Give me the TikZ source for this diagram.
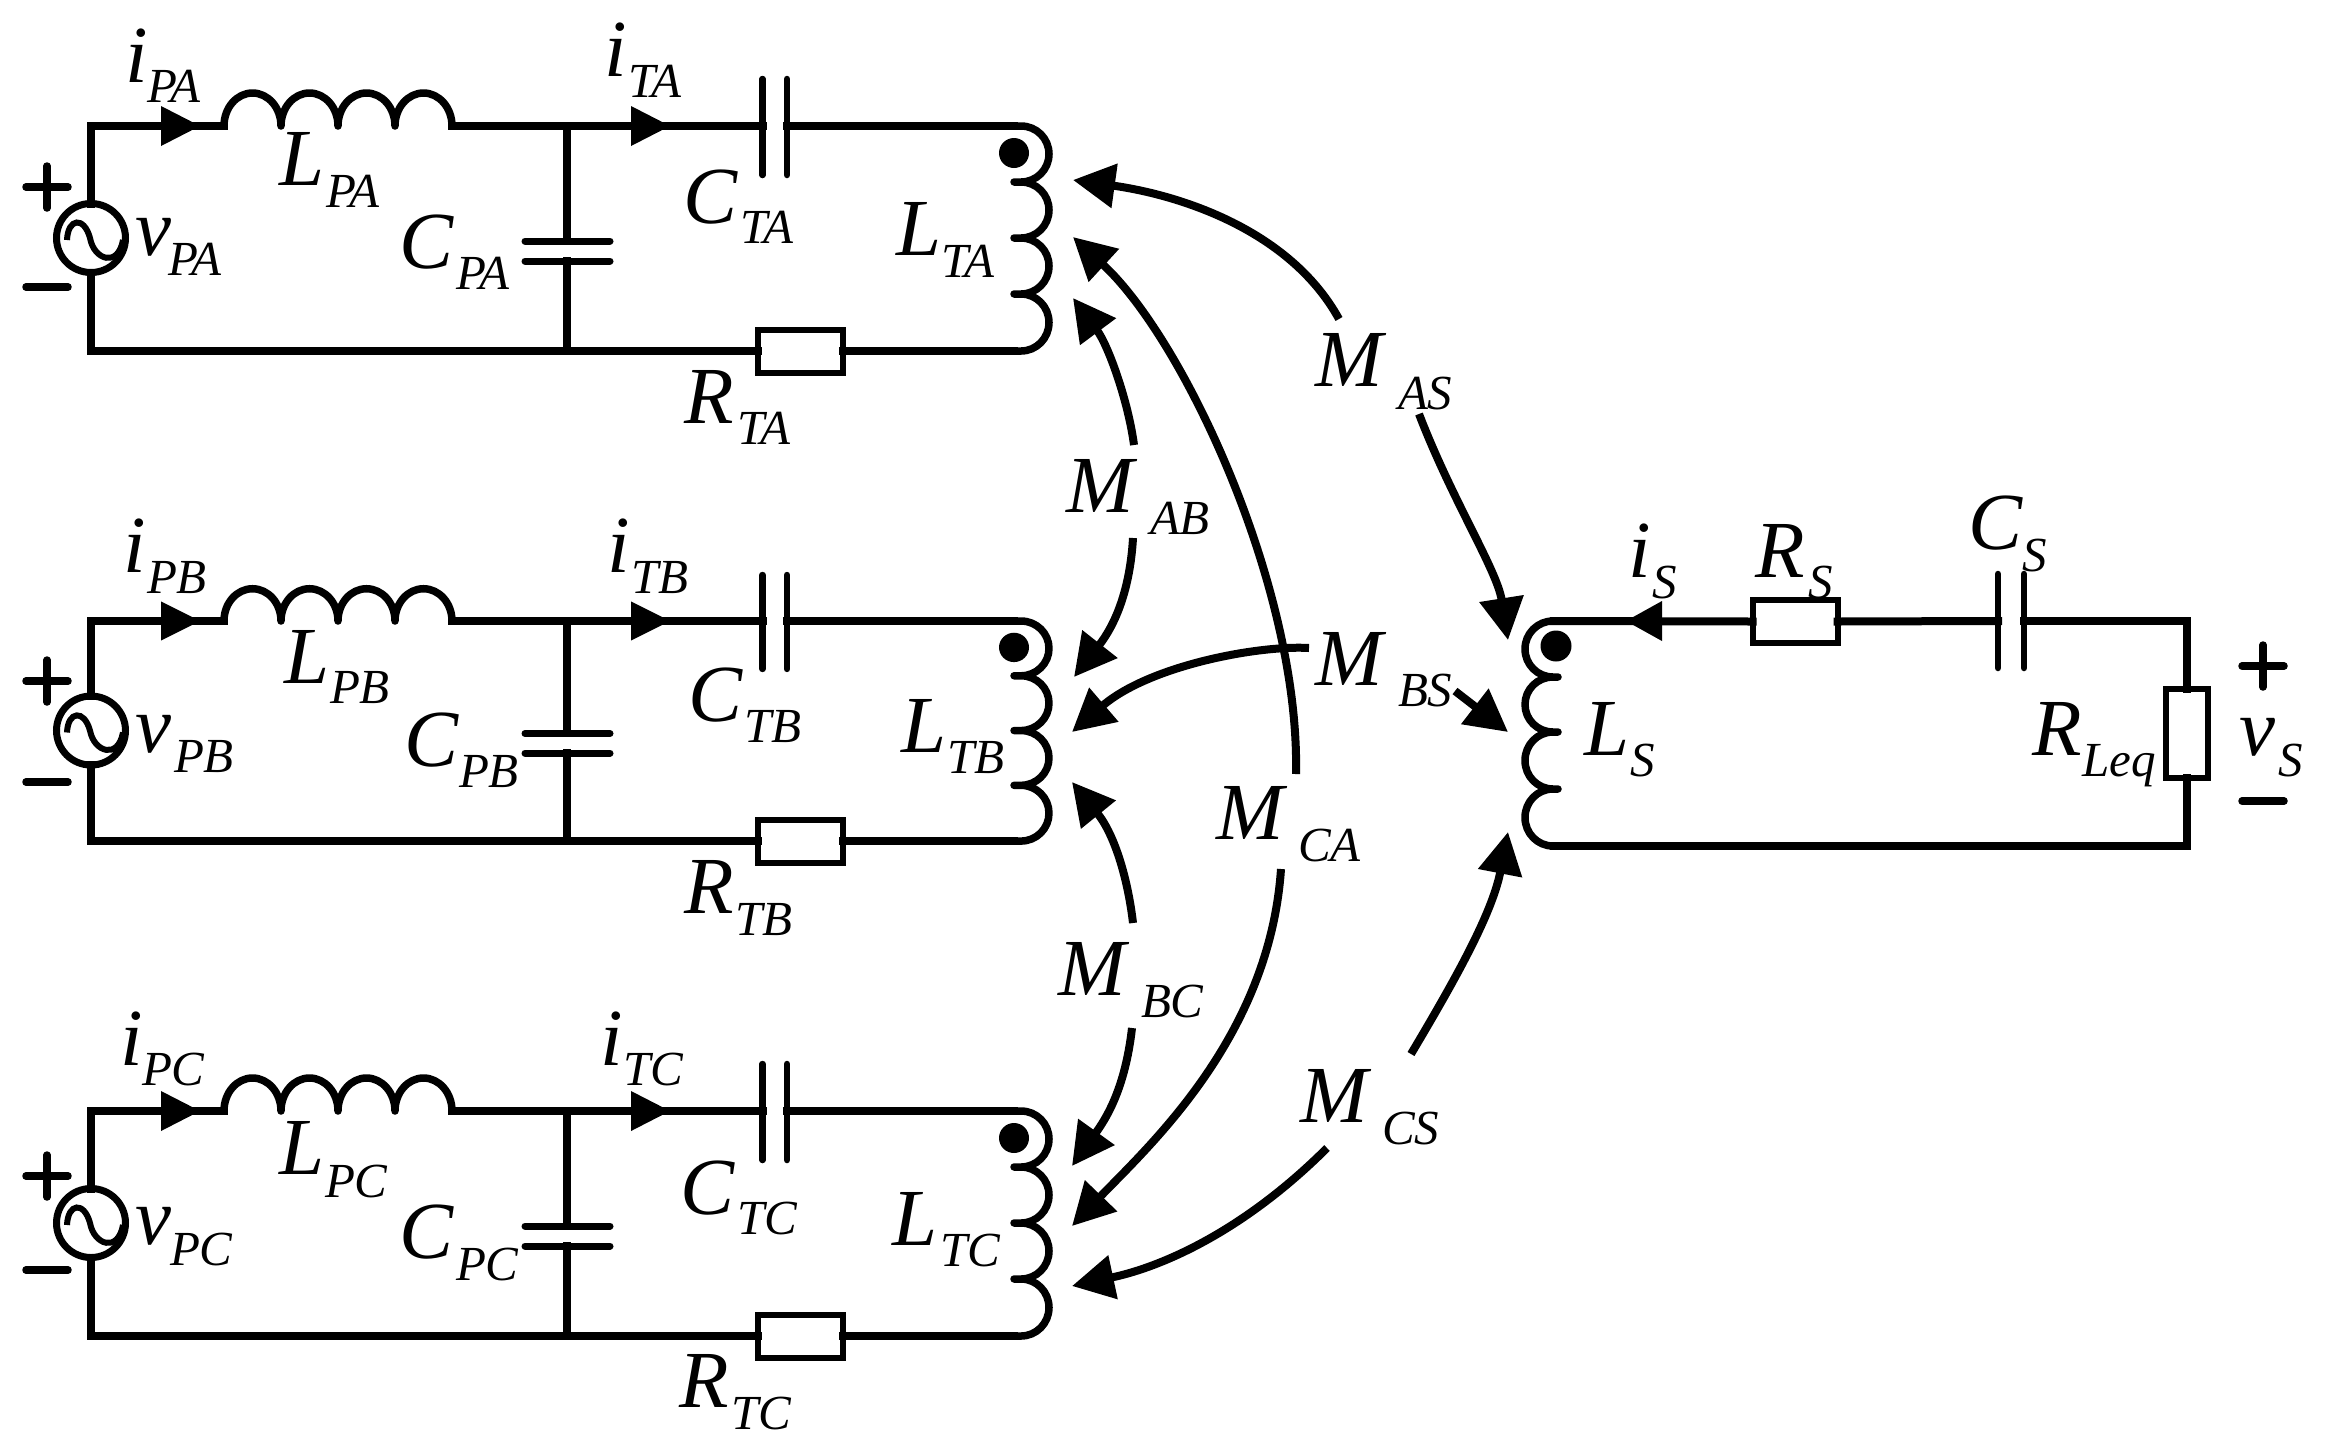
\documentclass[tikz,border=0pt]{standalone}
\usepackage{fontspec}
\setmainfont{Liberation Serif}
\usetikzlibrary{arrows.meta}
\newcommand{\mainsz}{\fontsize{81}{84}\selectfont\itshape}
\newcommand{\subsz}{\fontsize{49}{52}\selectfont\itshape}
% name, base position, main, dx to subscript, drop, subscript
\newcommand{\sym}[6]{\node[lab] (#1) at (#2) {\mainsz\makebox[#4pt][l]{#3}\raisebox{-#5pt}{\subsz #6}};}
% name, start, control 1, control 2, tip
\newcommand{\marc}[5]{\coordinate (#1s) at (#2);\coordinate (#1t) at (#5);
  \draw[mut] (#1s) .. controls (#3) and (#4) .. (#1t);}
\newcommand{\flowtip}[2]{\fill (#1,#2-20) -- (#1+39,#2) -- (#1,#2+20) -- cycle;}
\newcommand{\plusminus}[3]{%
  \draw[sign] (#1-21,#2) -- (#1+21,#2);
  \draw[sign] (#1,#2-21) -- (#1,#2+21);
  \draw[sign] (#1-21,#3) -- (#1+21,#3);}
% name, top y, height of the loop / 225
\newcommand{\phase}[3]{%
\begin{scope}[shift={(0,#2)},yscale=#3]
  \coordinate (#1tl) at (91,0);  \coordinate (#1bl) at (91,225);
  \coordinate (#1jt) at (567,0); \coordinate (#1jb) at (567,225);
  \coordinate (#1lp) at (224,0); \coordinate (#1lq) at (452,0);
  \coordinate (#1ca) at (762.5,0); \coordinate (#1cb) at (787,0);
  \coordinate (#1ka) at (1014,0); \coordinate (#1kb) at (1014,225);
  \coordinate (#1pa) at (567,115); \coordinate (#1pb) at (567,135);
  \node[src] (#1src) at (91,112) {};
  \node[res] (#1res) at (800.5,225) {};
  \draw[wire] (#1src.north) -- (#1tl) -- (#1lp);
  \draw[wire] (#1src.south) -- (#1bl) -- (#1jb) -- (#1res.west);
  \draw[wire] (#1res.east) -- (#1kb);
  \draw[wire] (#1lq) -- (#1jt) -- (#1ca);
  \draw[wire] (#1cb) -- (#1ka);
  \draw[wire] (#1jt) -- (#1pa);
  \draw[wire] (#1pb) -- (#1jb);
  \draw[plate] (525,115) -- (610,115);
  \draw[plate] (525,135) -- (610,135);
  \draw[thin plate] (762.5,-47) -- (762.5,49);
  \draw[thin plate] (787,-47) -- (787,49);
  \draw[coil] (224,0) arc[start angle=180,end angle=360,x radius=28.5,y radius=33]
              arc[start angle=180,end angle=360,x radius=28.5,y radius=33]
              arc[start angle=180,end angle=360,x radius=28.5,y radius=33]
              arc[start angle=180,end angle=360,x radius=28.5,y radius=33];
  \draw[coil] (1014,0) -- (1021,0) arc[start angle=-90,end angle=90,radius=28] -- (1014,56) -- (1021,56)
              arc[start angle=-90,end angle=90,radius=28] -- (1014,112) -- (1021,112)
              arc[start angle=-90,end angle=90,radius=28] -- (1014,168) -- (1021,168)
              arc[start angle=-90,end angle=90,x radius=28,y radius=28.5] -- (1014,225);
  \fill (1014,27) circle[radius=15];
  \draw[sine] (67,114) .. controls (68,92) and (84,90) .. (90,112) .. controls (94,134) and (118,142) .. (123,114);
  \flowtip{161}{0}
  \flowtip{631}{0}
\end{scope}}
\tikzset{
  wire/.style={line width=8pt,line cap=rect,line join=miter},
  coil/.style={line width=7.5pt,line cap=round,line join=round},
  plate/.style={line width=7pt,line cap=round},
  thin plate/.style={line width=6.5pt,line cap=round},
  sign/.style={line width=7.5pt,line cap=round},
  sine/.style={line width=6pt},
  src/.style={circle,draw,line width=7pt,minimum size=69pt,inner sep=0pt,outer sep=0pt},
  res/.style={rectangle,draw,fill=white,line width=6pt,minimum width=85pt,minimum height=43pt,inner sep=0pt,outer sep=0pt},
  lab/.style={anchor=base west,inner sep=0pt,outer sep=0pt},
  mut/.style={line width=8pt,-{Triangle[length=42pt,width=43pt]}},
}
\begin{document}
\begin{tikzpicture}[x=1pt,y=-1pt]
\useasboundingbox (0,0) rectangle (2327,1444);
\phase{A}{126}{1}
\phase{B}{621}{0.978}
\phase{C}{1111}{1}
\plusminus{47}{187}{287}
\plusminus{47}{681}{782}
\plusminus{47}{1176}{1270}
% secondary
\coordinate (Sa) at (1554,621); \coordinate (Sb) at (1554,846);
\coordinate (Sc) at (1998,621); \coordinate (Sd) at (2024,621);
\coordinate (Se) at (2187,621); \coordinate (Sf) at (2187,846);
\node[res] (Rs) at (1795,621.5) {};
\node[res,minimum width=42pt,minimum height=89pt] (RL) at (2187,733.5) {};
\draw[wire] (Sa) -- (Rs.west);
\draw[wire] (Rs.east) -- (Sc);
\draw[wire] (Sd) -- (Se) -- (RL.north);
\draw[wire] (RL.south) -- (Sf) -- (Sb);
\draw[thin plate] (1998,574) -- (1998,668);
\draw[thin plate] (2024,574) -- (2024,668);
\draw[coil] (1558,621) -- (1553,621) arc[start angle=270,end angle=90,radius=28] -- (1558,677) -- (1553,677)
  arc[start angle=270,end angle=90,x radius=28,y radius=27.5] -- (1558,732) -- (1553,732)
  arc[start angle=270,end angle=90,x radius=28,y radius=28.5] -- (1558,789) -- (1553,789)
  arc[start angle=270,end angle=90,x radius=28,y radius=28.5] -- (1558,846);
\fill (1556,646) circle[radius=15.5];
\fill (1662,601) -- (1626,621) -- (1662,641) -- cycle;
\plusminus{2263}{666}{801}
% mutual couplings
\marc{as1}{1339,319}{1290,230}{1180,195}{1073,180}
\marc{as2}{1419,414}{1452,500}{1497,570}{1508,640}
\marc{ab1}{1134,445}{1128,400}{1108,345}{1073,298}
\marc{ab2}{1133,538}{1130,590}{1115,625}{1074,677}
\marc{ca1}{1296,774}{1300,590}{1185,340}{1073,237}
\marc{ca2}{1281,869}{1269.5,1036.5}{1150,1145}{1072,1226}
\marc{bc1}{1133,923}{1128,880}{1115,835}{1072,782}
\marc{bc2}{1132,1028}{1125,1090}{1105,1120}{1072,1166}
\marc{cs1}{1327,1148}{1250,1225}{1170,1265}{1072,1286}
\marc{cs2}{1411,1054}{1452,985}{1492,915}{1508,832}
\marc{bs1}{1309,648}{1260,645}{1150,665}{1072,732}
\coordinate (bs2s) at (1455,691); \coordinate (bs2t) at (1508,732);
\draw[mut] (bs2s) -- (bs2t);
% labels branch A
\sym{iPA}{125,82}{i}{22}{20}{PA}
\sym{LPA}{279,185}{L}{47}{22}{PA}
\sym{CPA}{399,268}{C}{57}{21}{PA}
\sym{vPA}{135,255}{v}{33}{20}{PA}
\sym{iTA}{604,76}{i}{24}{21}{TA}
\sym{CTA}{683,223}{C}{57}{20}{TA}
\sym{LTA}{896,255}{L}{45}{22}{TA}
\sym{RTA}{684,423}{R}{53}{21}{TA}
% labels branch B
\sym{iPB}{123,572}{i}{24}{21}{PB}
\sym{LPB}{284,683}{L}{46}{20}{PB}
\sym{CPB}{404,766}{C}{55}{21}{PB}
\sym{vPB}{135,752}{v}{39}{20}{PB}
\sym{iTB}{607,572}{i}{24}{21}{TB}
\sym{CTB}{688,721}{C}{56}{21}{TB}
\sym{LTB}{901,752}{L}{46}{21}{TB}
\sym{RTB}{684,913}{R}{51}{22}{TB}
% labels branch C
\sym{iPC}{120,1065}{i}{22}{20}{PC}
\sym{LPC}{279,1174}{L}{46}{23}{PC}
\sym{CPC}{399,1258}{C}{57}{22}{PC}
\sym{vPC}{135,1244}{v}{35}{21}{PC}
\sym{iTC}{600,1065}{i}{23}{20}{TC}
\sym{CTC}{680,1214}{C}{57}{20}{TC}
\sym{LTC}{892,1245}{L}{48}{21}{TC}
\sym{RTC}{679,1407}{R}{52}{22}{TC}
% labels secondary
\sym{iS}{1628,577}{i}{24}{21}{S}
\sym{RS}{1755,577}{R}{53}{21}{S}
\sym{CS}{1968,549}{C}{54}{22}{S}
\sym{LS}{1584,755}{L}{46}{21}{S}
\sym{RLeq}{2032,755}{R}{50}{21}{Leq}
\sym{vS}{2239,755}{v}{39}{21}{S}
% labels mutual
\sym{MAS}{1315,386}{M}{83}{23}{AS}
\sym{MAB}{1066,512}{M}{84}{22}{AB}
\sym{MBS}{1315,685}{M}{83}{21}{BS}
\sym{MCA}{1216,839}{M}{82}{22}{CA}
\sym{MBC}{1058,995}{M}{83}{22}{BC}
\sym{MCS}{1300,1122}{M}{82}{22}{CS}
\end{tikzpicture}
\end{document}
